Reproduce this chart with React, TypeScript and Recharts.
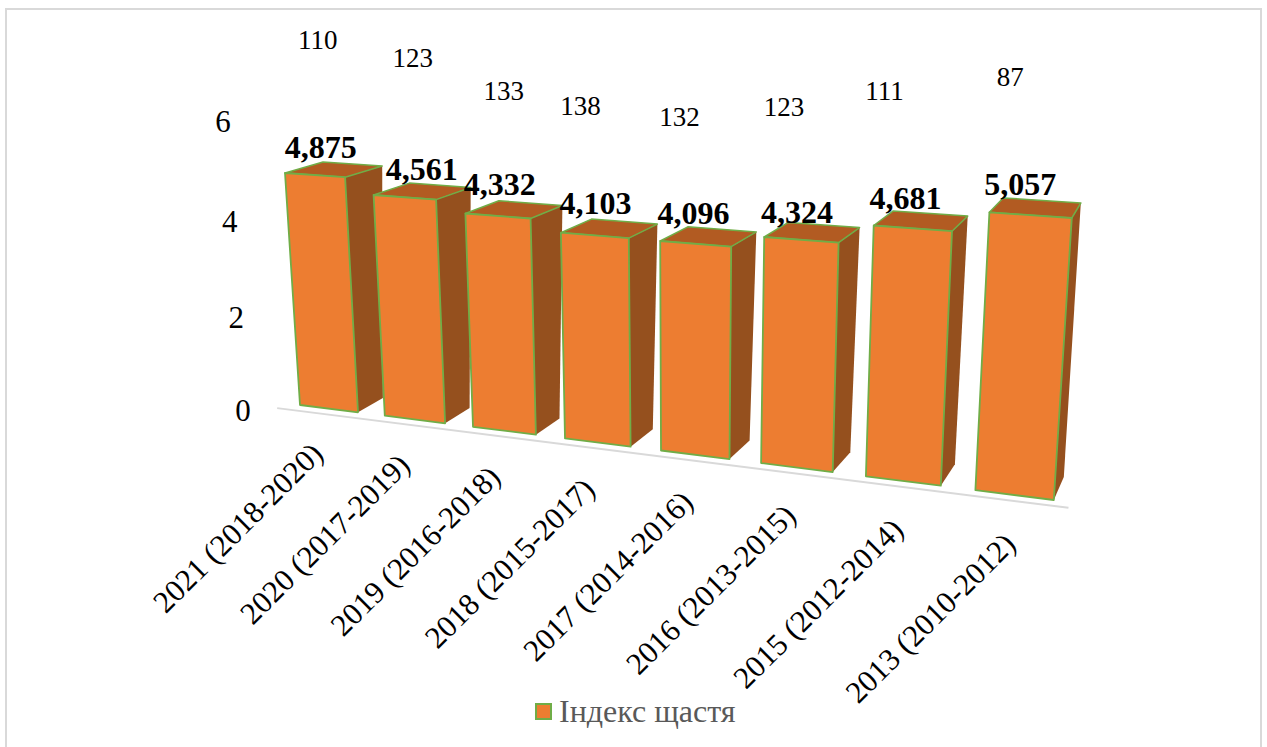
import React from "react";
import { BarChart, Bar, XAxis, YAxis, Legend, LabelList, ReferenceLine } from "recharts";

const categories = [
  "2021 (2018-2020)", "2020 (2017-2019)", "2019 (2016-2018)", "2018 (2015-2017)",
  "2017 (2014-2016)", "2016 (2013-2015)", "2015 (2012-2014)", "2013 (2010-2012)",
];
const happiness = [4.875, 4.561, 4.332, 4.103, 4.096, 4.324, 4.681, 5.057];
const ranks = [110, 123, 133, 138, 132, 123, 111, 87];
const yTicks = [0, 2, 4, 6];
const seriesName = "Індекс щастя";

const data = categories.map((c, i) => ({ category: c, happiness: happiness[i], rank: ranks[i] }));

const SERIF = "'Liberation Serif', 'Times New Roman', serif";
const WIDTH = 1267, HEIGHT = 747;
const PLOT_LEFT = 278, PLOT_TOP = 121, PLOT_W = 790, PLOT_H = 290;
const PLOT_BOTTOM = PLOT_TOP + PLOT_H;

type Pt = [number, number];

// Solve the perspective transform that sends four flat-chart points to four picture points.
function homography(src: Pt[], dst: Pt[]): number[] {
  const A: number[][] = [];
  for (let i = 0; i < 4; i++) {
    const [x, y] = src[i];
    const [u, v] = dst[i];
    A.push([x, y, 1, 0, 0, 0, -u * x, -u * y, u]);
    A.push([0, 0, 0, x, y, 1, -v * x, -v * y, v]);
  }
  for (let c = 0; c < 8; c++) {
    let p = c;
    for (let r = c + 1; r < 8; r++) if (Math.abs(A[r][c]) > Math.abs(A[p][c])) p = r;
    [A[c], A[p]] = [A[p], A[c]];
    for (let r = 0; r < 8; r++) {
      if (r === c) continue;
      const f = A[r][c] / A[c][c];
      for (let k = c; k < 9; k++) A[r][k] -= f * A[c][k];
    }
  }
  return A.map((row, i) => row[8] / row[i]);
}
const apply = (h: number[], x: number, y: number): Pt => {
  const w = h[6] * x + h[7] * y + 1;
  return [(h[0] * x + h[1] * y + h[2]) / w, (h[3] * x + h[4] * y + h[5]) / w];
};

// Calibration of the 3D view: flat plot-space anchors -> front and back planes of the bars.
const ANCHORS: Pt[] = [[293.3, 411], [1052.7, 411], [1052.7, 166.6], [293.3, 175.4]];
const ANCHORS_BACK: Pt[] = [[361.45, 411], [1052.7, 411], [1052.7, 166.6], [293.3, 175.4]];
const FRONT = homography(ANCHORS, [[300, 405], [1054, 500], [1072, 218], [285, 173]]);
const BACK = homography(ANCHORS_BACK, [[383, 398], [1064, 477], [1081, 203], [323, 162]]);
const front = (x: number, y: number) => apply(FRONT, x, y);
const back = (x: number, y: number) => apply(BACK, x, y);
const poly = (pts: Pt[]) => pts.map((p) => `${p[0].toFixed(1)},${p[1].toFixed(1)}`).join(" ");

const FRONT_FILL = "#ED7D31", TOP_FILL = "#B25B22", SIDE_FILL = "#95501E", EDGE = "#70AD47";

const Bar3D = (props: any) => {
  const { x, y, width, height } = props;
  const b = y + height, r = x + width;
  const fTL = front(x, y), fTR = front(r, y), fBR = front(r, b), fBL = front(x, b);
  const bTL = back(x, y), bTR = back(r, y), bBR = back(r, b);
  return (
    <g>
      <polygon points={poly([fTR, bTR, bBR, fBR])} fill={SIDE_FILL} />
      <polygon points={poly([fTL, fTR, bTR, bTL])} fill={TOP_FILL} stroke={EDGE} strokeWidth={1.5} strokeLinejoin="round" />
      <polygon points={poly([fTL, fTR, fBR, fBL])} fill={FRONT_FILL} stroke={EDGE} strokeWidth={1.8} strokeLinejoin="round" />
    </g>
  );
};

// Label placement relative to the front-top centre of each bar.
const VALUE_NUDGE: Pt[] = [[6, -28], [17, -28], [2, -32], [1, -32], [-2, -31], [-4, -28], [-7, -30], [-10, -31]];
const RANK_NUDGE: Pt[] = [[3, -135], [8, -139], [6, -125], [-14, -129], [-16, -127], [-17, -133], [-28, -137], [-20, -138]];

const topCentre = (p: any): Pt => front(p.x + p.width / 2, p.y);

const ValueLabel = (p: any) => {
  const [cx, cy] = topCentre(p);
  const [dx, dy] = VALUE_NUDGE[p.index];
  return (
    <text x={cx + dx} y={cy + dy} textAnchor="middle" dominantBaseline="central"
      fontFamily={SERIF} fontWeight="bold" fontSize={32} fill="#000">
      {Number(p.value).toFixed(3).replace(".", ",")}
    </text>
  );
};
const RankLabel = (p: any) => {
  const [cx, cy] = topCentre(p);
  const [dx, dy] = RANK_NUDGE[p.index];
  return (
    <text x={cx + dx} y={cy + dy} textAnchor="middle" dominantBaseline="central"
      fontFamily={SERIF} fontSize={27} fill="#000">
      {p.value}
    </text>
  );
};

const CategoryTick = (p: any) => {
  const [bx, by] = front(p.x, PLOT_BOTTOM);
  const cx = bx - 91 + p.index, cy = by + 119 + p.index * 0.57;
  return (
    <text x={cx} y={cy} textAnchor="middle" dominantBaseline="central"
      transform={`rotate(-45 ${cx} ${cy})`} fontFamily={SERIF} fontSize={31} fill="#000">
      {p.payload.value}
    </text>
  );
};

const Y_NUDGE: Record<number, number> = { 0: -1, 2: 3, 4: 4, 6: 0 };
const ValueTick = (p: any) => {
  const v = p.payload.value;
  return (
    <text x={243 - (20 * v) / 6} y={p.y + Y_NUDGE[v]} textAnchor="middle" dominantBaseline="central"
      fontFamily={SERIF} fontSize={31} fill="#000">
      {v}
    </text>
  );
};

const Floor = (p: any) => {
  const [x1, y1] = front(p.x1 - 12, p.y1);
  const [x2, y2] = front(p.x2 - 3, p.y2);
  return <line x1={x1} y1={y1 + 6} x2={x2} y2={y2 + 6} stroke="#D9D9D9" strokeWidth={2} />;
};

const LegendBox = (p: any) => {
  const item = p.payload?.[0];
  return (
    <div style={{ display: "flex", alignItems: "center", fontFamily: SERIF, fontSize: 32, color: "#595959", whiteSpace: "nowrap" }}>
      <span style={{ display: "inline-block", width: 13, height: 13, background: FRONT_FILL, border: `2px solid ${EDGE}`, marginRight: 7 }} />
      {item?.value}
    </div>
  );
};

export default function App() {
  return (
    <div style={{ position: "absolute", left: 0, top: 0, width: WIDTH, height: HEIGHT, overflow: "hidden", background: "#fff" }}>
      <div style={{ position: "absolute", left: 5, top: 8, width: 1253, height: 800, border: "2px solid #D9D9D9" }} />
      <BarChart
        width={WIDTH}
        height={HEIGHT}
        data={data}
        barCategoryGap="15.5%"
        margin={{ left: PLOT_LEFT - 60, top: PLOT_TOP, right: WIDTH - PLOT_LEFT - PLOT_W, bottom: HEIGHT - PLOT_BOTTOM - 30 }}
        style={{ position: "absolute", left: 0, top: 0 }}
      >
        <XAxis dataKey="category" axisLine={false} tickLine={false} tick={CategoryTick} interval={0} height={30} />
        <YAxis domain={[0, 6]} ticks={yTicks} axisLine={false} tickLine={false} tick={ValueTick} width={60} />
        <ReferenceLine y={0} shape={Floor} />
        <Legend
          layout="vertical"
          align="center"
          verticalAlign="middle"
          content={LegendBox}
          wrapperStyle={{ position: "absolute", left: 535, top: 693, width: 240, height: 40, margin: 0 }}
        />
        <Bar dataKey="happiness" name={seriesName} shape={Bar3D} fill={FRONT_FILL} isAnimationActive={false}>
          <LabelList dataKey="happiness" content={ValueLabel} />
          <LabelList dataKey="rank" content={RankLabel} />
        </Bar>
      </BarChart>
    </div>
  );
}
